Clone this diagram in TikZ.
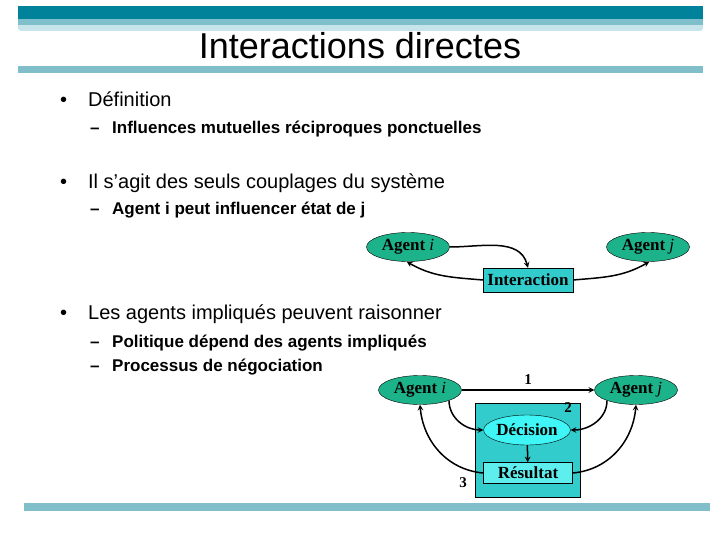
\documentclass[tikz,border=0pt]{standalone}
\usepackage{fontspec}
\setmainfont{Liberation Serif}
\setsansfont{Liberation Sans}
\usepackage{xcolor}
\usepackage{tikz}
\usetikzlibrary{shapes.geometric, arrows, positioning}
\definecolor{bardark}{HTML}{00829A}
\definecolor{barmid}{HTML}{7FBFCC}
\definecolor{barlight}{HTML}{C6E4EA}
\definecolor{rulecol}{HTML}{80BFCA}
\definecolor{agentgreen}{HTML}{1DB38A}
\definecolor{tealfill}{HTML}{33CCCC}
\definecolor{decfill}{HTML}{40F5F5}
\definecolor{resfill}{HTML}{5EEEEE}
\tikzstyle{agent} = [ellipse, minimum width=83pt, minimum height=29pt, inner sep=0pt, draw=black, fill=agentgreen, font=\fontsize{17}{20}\selectfont]
\tikzstyle{tealrect} = [rectangle, minimum width=90pt, minimum height=24pt, inner sep=0pt, draw=black, fill=tealfill, font=\bfseries\fontsize{17}{20}\selectfont]
\tikzstyle{decision} = [ellipse, minimum width=81pt, minimum height=30pt, inner sep=0pt, draw=black, fill=decfill, font=\bfseries\fontsize{17}{20}\selectfont]
\tikzstyle{result} = [rectangle, minimum width=89pt, minimum height=21pt, inner sep=0pt, draw=black, fill=resfill, font=\bfseries\fontsize{17}{20}\selectfont]
\tikzstyle{num} = [inner sep=1pt, font=\bfseries\fontsize{15}{17}\selectfont]
\tikzstyle{level1} = [anchor=mid west, inner sep=0pt, font=\sffamily\fontsize{20}{24}\selectfont]
\tikzstyle{level2} = [anchor=mid west, inner sep=0pt, font=\sffamily\bfseries\fontsize{17}{21}\selectfont]
\tikzstyle{arrow} = [line width=1.5pt, ->, >=stealth]
\newcommand{\agentlabel}[1]{\textbf{Agent} \textit{#1}}

\begin{document}
\begin{tikzpicture}[x=1pt, y=1pt]
    \useasboundingbox (0,0) rectangle (720,-540);

    % Bars
    \fill[barlight, rounded corners=3pt] (18,-8) rectangle (703,-31);
    \fill[barmid] (18,-8) rectangle (703,-25);
    \fill[bardark] (18,-6) rectangle (703,-19);
    \fill[rulecol] (18,-66) rectangle (703,-73);
    \fill[rulecol] (24,-503) rectangle (710,-511);

    % Title
    \node (title) at (360,-46) {\sffamily\fontsize{36}{40}\selectfont Interactions directes};

    % Text
    \node (def) [level1] at (60,-104) {\makebox[28pt][l]{•}Définition};
    \node (infl) [level2] at (90,-131) {\makebox[22pt][l]{–}Influences mutuelles réciproques ponctuelles};
    \node (coupl) [level1] at (60,-186) {\makebox[28pt][l]{•}Il s’agit des seuls couplages du système};
    \node (peut) [level2] at (90,-212) {\makebox[22pt][l]{–}Agent i peut influencer état de j};
    \node (rais) [level1] at (60,-317) {\makebox[28pt][l]{•}Les agents impliqués peuvent raisonner};
    \node (polit) [level2] at (90,-345) {\makebox[22pt][l]{–}Politique dépend des agents impliqués};
    \node (nego) [level2] at (90,-369) {\makebox[22pt][l]{–}Processus de négociation};

    % Interaction
    \node (agi1) [agent] at (408,-247) {\agentlabel{i}};
    \node (agj1) [agent] at (648,-247) {\agentlabel{j}};
    \node (inter) [tealrect] at (528,-280) {Interaction};

    % Negotiation
    \node (agi2) [agent] at (420,-390) {\agentlabel{i}};
    \node (agj2) [agent] at (636,-390) {\agentlabel{j}};
    \node (dbox) [rectangle, minimum width=105pt, minimum height=94pt, inner sep=0pt, draw=black, fill=tealfill] at (527.5,-450) {};
    \node (dec) [decision] at (527,-430) {Décision};
    \node (res) [result] at (528,-473) {Résultat};
    \node (two) [num] at (568,-408) {2};
    \node (three) [num] at (463,-483) {3};

    % Arrows
    \draw [arrow] (agi1.east) to[out=0, in=105] (inter.north);
    \draw [arrow] (inter.west) to[out=175, in=-30] (agi1.-95);
    \draw [arrow] (inter.east) to[out=5, in=-150] (agj1.-85);
    \draw [arrow] (agi2) -- node[num, above=4pt] (one) {1} (agj2);
    \draw [arrow] (agi2.-20) to[out=-90, in=180] (dec.west);
    \draw [arrow] (agj2.-160) to[out=-90, in=0] (dec.east);
    \draw [arrow] (dec) -- (res);
    \draw [arrow] (res.west) to[out=175, in=-85] (agi2.-90);
    \draw [arrow] (res.east) to[out=5, in=-95] (agj2.-90);
\end{tikzpicture}
\end{document}
